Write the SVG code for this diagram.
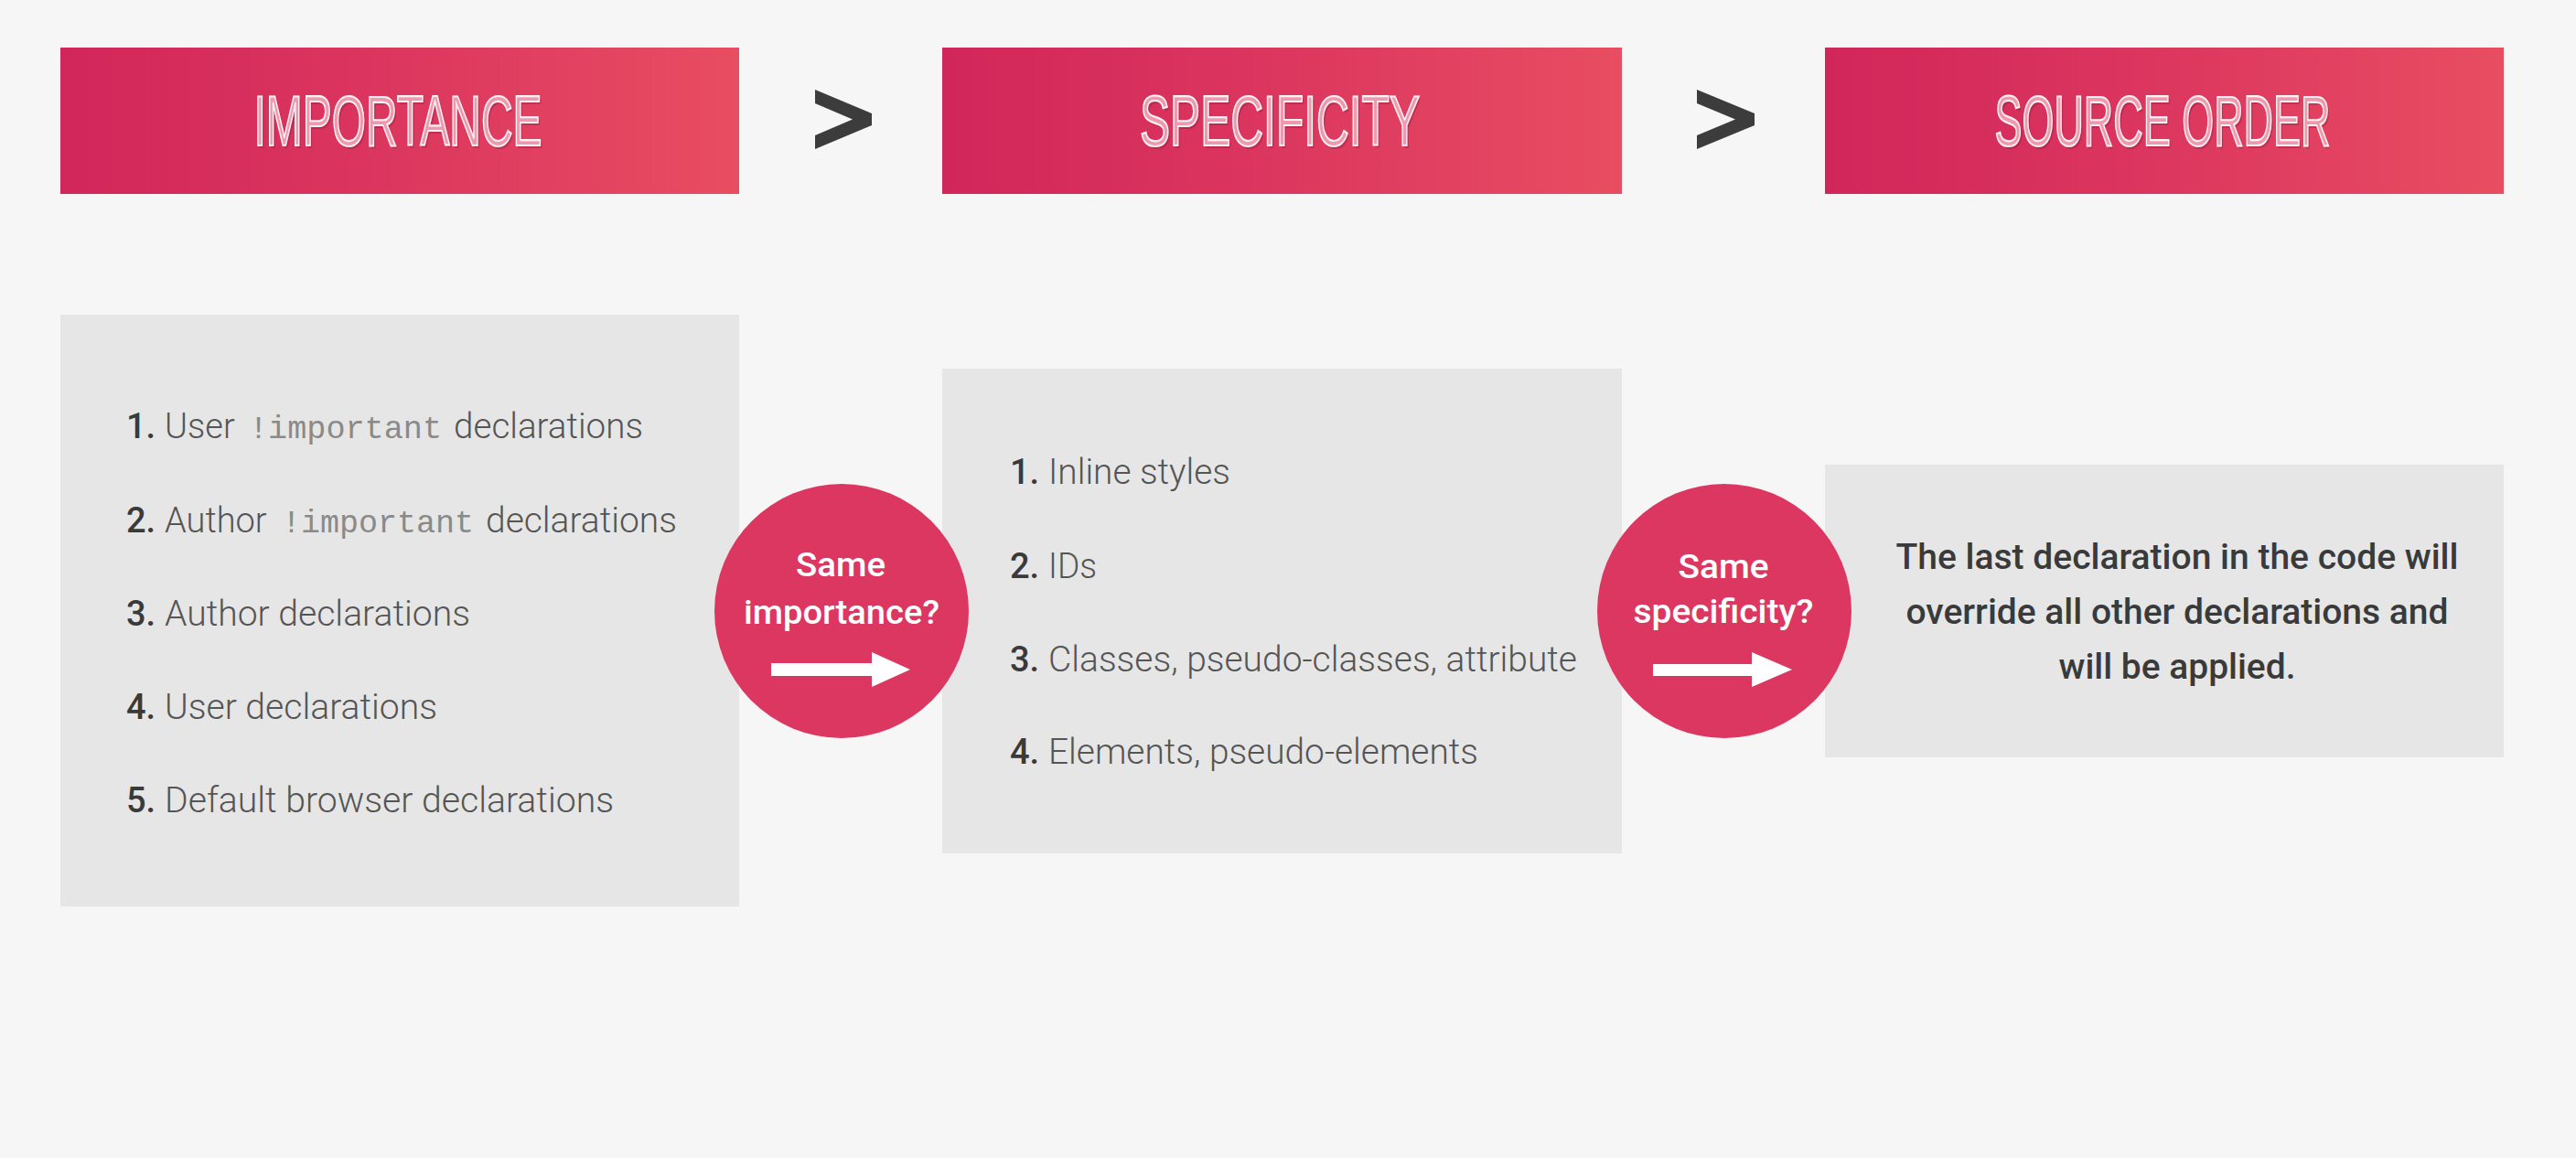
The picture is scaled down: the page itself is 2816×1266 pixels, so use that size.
<svg xmlns="http://www.w3.org/2000/svg" width="2816" height="1266" viewBox="0 0 2816 1266">
  <defs>
    <linearGradient id="bandFill" x1="0" y1="0" x2="1" y2="0">
      <stop offset="0" stop-color="#d1265a"/>
      <stop offset="0.5" stop-color="#dc375f"/>
      <stop offset="1" stop-color="#e84d61"/>
    </linearGradient>
    <style>
      .band { fill: url(#bandFill); }
      .band-title { font-family: "Liberation Sans", Arial, sans-serif; font-size: 78px; fill: #ee9aae; stroke: #fff3f5; stroke-width: 2.2; text-anchor: middle; }
      .band-shadow { font-family: "Liberation Sans", Arial, sans-serif; font-size: 78px; fill: #7a1733; opacity: 0.3; text-anchor: middle; }
      .panel { fill: #e6e6e6; }
      .num { font-family: Roboto, "Liberation Sans", sans-serif; font-size: 38px; font-weight: 500; fill: #3a3a3a; }
      .item { font-family: Roboto, "Liberation Sans", sans-serif; font-size: 38px; font-weight: 300; fill: #555555; }
      .code { font-family: "Liberation Mono", "DejaVu Sans Mono", monospace; font-size: 35px; fill: #8a8a8a; }
      .note { font-family: Roboto, "Liberation Sans", sans-serif; font-size: 38px; font-weight: 500; fill: #3a3a3a; text-anchor: middle; }
      .badge { fill: #dc3761; }
      .badge-text { font-family: Roboto, "Liberation Sans", sans-serif; font-size: 37px; font-weight: 500; fill: #ffffff; text-anchor: middle; }
      .badge-arrow { fill: #ffffff; }
      .chevron { fill: #3c3c3c; }
    </style>
  </defs>

  <!-- page background -->
  <rect x="0" y="0" width="2816" height="1266" fill="#f6f6f6"/>

  <!-- top row: the three cascade criteria -->
  <g id="header-importance">
    <rect class="band" x="66" y="52" width="742" height="160"/>
    <text class="band-shadow" x="437" y="162" textLength="315" lengthAdjust="spacingAndGlyphs">IMPORTANCE</text>
    <text class="band-title" x="435" y="159" textLength="315" lengthAdjust="spacingAndGlyphs">IMPORTANCE</text>
  </g>
  <g id="header-specificity">
    <rect class="band" x="1030" y="52" width="743" height="160"/>
    <text class="band-shadow" x="1401" y="162" textLength="306" lengthAdjust="spacingAndGlyphs">SPECIFICITY</text>
    <text class="band-title" x="1399" y="159" textLength="306" lengthAdjust="spacingAndGlyphs">SPECIFICITY</text>
  </g>
  <g id="header-source-order">
    <rect class="band" x="1995" y="52" width="742" height="160"/>
    <text class="band-shadow" x="2366" y="162" textLength="367" lengthAdjust="spacingAndGlyphs">SOURCE ORDER</text>
    <text class="band-title" x="2364" y="159" textLength="367" lengthAdjust="spacingAndGlyphs">SOURCE ORDER</text>
  </g>

  <!-- importance ranking -->
  <g id="panel-importance">
    <rect class="panel" x="66" y="344" width="742" height="647"/>
    <text class="num" x="138" y="479">1.</text>
    <text class="item" x="180" y="479">User</text>
    <text class="code" x="272" y="479" textLength="211" lengthAdjust="spacingAndGlyphs">!important</text>
    <text class="item" x="496" y="479" textLength="207" lengthAdjust="spacingAndGlyphs">declarations</text>

    <text class="num" x="138" y="582">2.</text>
    <text class="item" x="180" y="582">Author</text>
    <text class="code" x="308" y="582" textLength="210" lengthAdjust="spacingAndGlyphs">!important</text>
    <text class="item" x="531" y="582" textLength="209" lengthAdjust="spacingAndGlyphs">declarations</text>

    <text class="num" x="138" y="684">3.</text>
    <text class="item" x="180" y="684" textLength="334" lengthAdjust="spacingAndGlyphs">Author declarations</text>

    <text class="num" x="138" y="786">4.</text>
    <text class="item" x="180" y="786" textLength="298" lengthAdjust="spacingAndGlyphs">User declarations</text>

    <text class="num" x="138" y="888">5.</text>
    <text class="item" x="180" y="888" textLength="491" lengthAdjust="spacingAndGlyphs">Default browser declarations</text>
  </g>

  <!-- specificity ranking -->
  <g id="panel-specificity">
    <rect class="panel" x="1030" y="403" width="743" height="530"/>
    <text class="num" x="1104" y="529">1.</text>
    <text class="item" x="1146" y="529" textLength="199" lengthAdjust="spacingAndGlyphs">Inline styles</text>

    <text class="num" x="1104" y="632">2.</text>
    <text class="item" x="1146" y="632" textLength="53" lengthAdjust="spacingAndGlyphs">IDs</text>

    <text class="num" x="1104" y="734">3.</text>
    <text class="item" x="1146" y="734" textLength="578" lengthAdjust="spacingAndGlyphs">Classes, pseudo-classes, attribute</text>

    <text class="num" x="1104" y="835">4.</text>
    <text class="item" x="1146" y="835" textLength="470" lengthAdjust="spacingAndGlyphs">Elements, pseudo-elements</text>
  </g>

  <!-- source order rule -->
  <g id="panel-source-order">
    <rect class="panel" x="1995" y="508" width="742" height="320"/>
    <text class="note" x="2380" y="622" textLength="615" lengthAdjust="spacingAndGlyphs">The last declaration in the code will</text>
    <text class="note" x="2380" y="682" textLength="593" lengthAdjust="spacingAndGlyphs">override all other declarations and</text>
    <text class="note" x="2380" y="742" textLength="259" lengthAdjust="spacingAndGlyphs">will be applied.</text>
  </g>

  <!-- tie-break badges -->
  <g id="badge-same-importance">
    <circle class="badge" cx="920" cy="668" r="139"/>
    <text class="badge-text" x="919" y="630" textLength="98" lengthAdjust="spacingAndGlyphs">Same</text>
    <text class="badge-text" x="920" y="682" textLength="214" lengthAdjust="spacingAndGlyphs">importance?</text>
    <path class="badge-arrow" d="M843 725 H953 V713 L995 732 L953 751 V739 H843 Z"/>
  </g>
  <g id="badge-same-specificity">
    <circle class="badge" cx="1885" cy="668" r="139"/>
    <text class="badge-text" x="1884" y="632" textLength="99" lengthAdjust="spacingAndGlyphs">Same</text>
    <text class="badge-text" x="1884" y="681" textLength="197" lengthAdjust="spacingAndGlyphs">specificity?</text>
    <path class="badge-arrow" d="M1807 726 H1915 V713 L1959 732 L1915 751 V739 H1807 Z"/>
  </g>

  <!-- precedence chevrons between criteria -->
  <g id="connectors">
    <polygon class="chevron" points="891,98 953,124 953,137 891,163 891,148 932,130.5 891,113"/>
    <polygon class="chevron" points="1855,98 1918,124 1918,137 1855,163 1855,148 1897,130.5 1855,113"/>
  </g>
</svg>
